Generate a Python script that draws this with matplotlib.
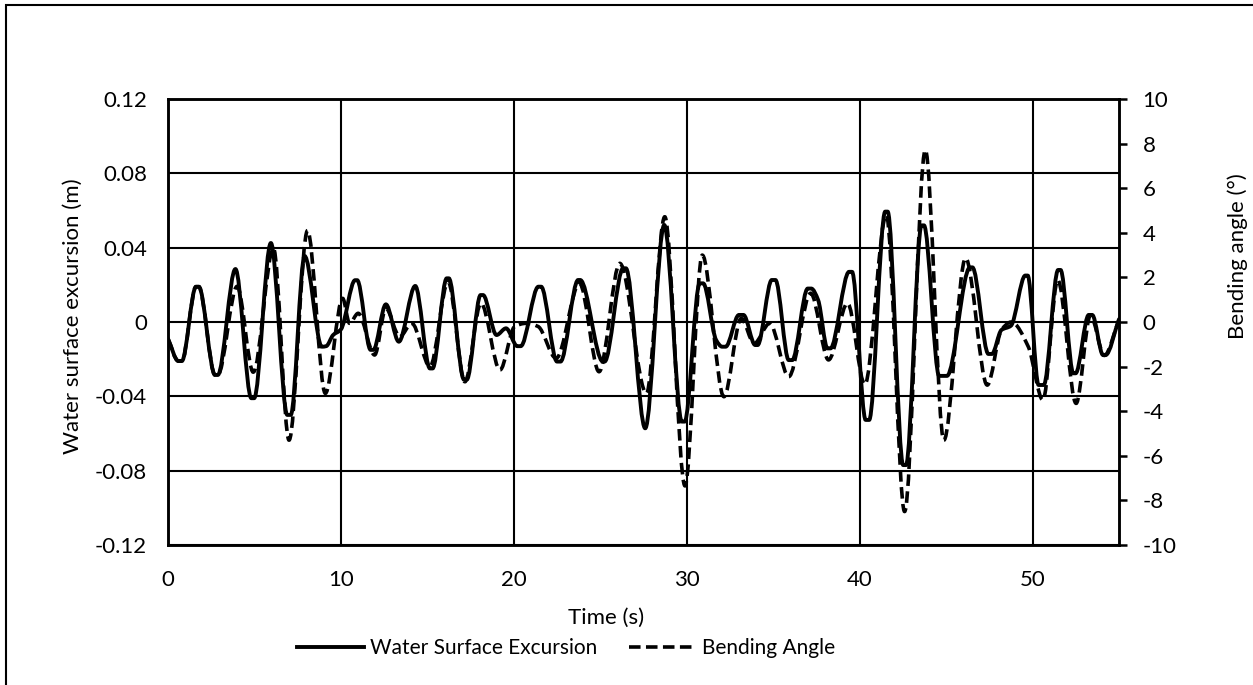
import matplotlib
matplotlib.use("Agg")
import matplotlib.pyplot as plt
from matplotlib.path import Path
from matplotlib.patches import PathPatch, Rectangle
from matplotlib.lines import Line2D

plt.rcParams['font.family'] = ['Lato', 'DejaVu Sans']
plt.rcParams['axes.unicode_minus'] = False

# water surface excursion (m)
water_t = [0.0, 0.6, 0.8, 1.62, 1.78, 2.72, 2.88, 3.9, 4.82, 4.98, 5.95,
           6.9, 7.1, 7.9, 8.9, 9.15, 9.55, 10.0, 10.82, 10.94, 11.72, 11.88,
           12.6, 13.35, 14.3, 15.15, 15.3, 16.12, 16.24, 17.12, 17.28, 18.08,
           18.22, 19.0, 19.55, 20.2, 20.4, 21.42, 21.58, 22.5, 22.7, 23.72,
           23.84, 25.15, 25.25, 26.32, 26.48, 27.6, 28.7, 29.72, 29.88,
           30.75, 30.95, 31.7, 32.05, 32.25, 33.02, 33.28, 33.96, 34.1,
           34.92, 35.13, 35.9, 36.1, 37.0, 37.2, 37.6, 38.14, 38.31, 39.39,
           39.56, 40.35, 40.55, 41.48, 41.62, 42.52, 42.68, 43.58, 43.72,
           44.6, 45.05, 46.38, 46.52, 47.45, 47.65, 48.2, 48.75, 49.58, 49.72,
           50.35, 50.65, 51.48, 51.62, 52.36, 52.49, 53.25, 53.45, 54.08,
           54.22, 55.0]
water_v = [-0.009, -0.021, -0.021, 0.019, 0.019, -0.0285, -0.0285, 0.0285,
           -0.041, -0.041, 0.0425, -0.050, -0.050, 0.0355, -0.0133, -0.013,
           -0.007, -0.004, 0.0225, 0.0225, -0.015, -0.015, 0.0095, -0.0106,
           0.0194, -0.025, -0.025, 0.0235, 0.0235, -0.031, -0.031, 0.0145,
           0.0145, -0.007, -0.0034, -0.013, -0.013, 0.019, 0.019, -0.0213,
           -0.0213, 0.0226, 0.0226, -0.0213, -0.0213, 0.0289, 0.0289, -0.0572,
           0.0522, -0.0536, -0.0536, 0.0208, 0.0208, -0.0097, -0.0133, -0.0133,
           0.0038, 0.0038, -0.0124, -0.0124, 0.0226, 0.0226, -0.0205, -0.0205,
           0.018, 0.018, 0.0118, -0.0142, -0.0142, 0.027, 0.027, -0.0527,
           -0.0527, 0.0594, 0.0594, -0.077, -0.077, 0.052, 0.052, -0.029,
           -0.029, 0.0294, 0.0294, -0.0172, -0.0172, -0.0043, -0.002, 0.025,
           0.025, -0.0339, -0.0339, 0.028, 0.028, -0.0276, -0.0276, 0.0038,
           0.0038, -0.0178, -0.0178, 0.0015]

# bending angle (deg)
angle_t = [0.0, 0.6, 0.8, 1.62, 1.78, 2.72, 2.88, 4.0, 4.93, 6.1, 7.0, 8.07,
           9.1, 10.1, 10.5, 11.0, 11.95, 12.6, 13.4, 14.1, 15.15, 16.2, 17.17,
           18.1, 19.2, 20.05, 20.7, 21.4, 22.45, 23.8, 24.93, 26.13, 27.67,
           28.73, 29.9, 30.9, 32.15, 33.15, 33.9, 34.8, 35.9, 37.17, 38.2,
           39.3, 40.3, 41.54, 42.6, 43.8, 44.87, 46.13, 47.38, 48.2, 48.77,
           49.75, 50.6, 51.46, 52.52, 53.35, 54.15, 55.0]
angle_v = [-0.75, -1.75, -1.75, 1.58, 1.58, -2.37, -2.37, 1.6, -2.25, 3.3,
           -5.3, 4.1, -3.2, 1.06, -0.06, 0.39, -1.48, 0.61, -0.66, -0.06, -2.0,
           1.8, -2.68, 0.84, -2.15, -0.2, -0.06, -0.2, -1.63, 1.73, -2.23, 2.63,
           -3.2, 4.72, -7.35, 3.0, -3.35, 0.16, -0.96, -0.06, -2.45, 1.29, -1.7,
           0.84, -2.8, 4.8, -8.5, 7.71, -5.3, 2.86, -2.83, -0.36, 0.0, -1.1,
           -3.5, 1.88, -3.65, 0.3, -1.5, 0.1]

x_ticks = [0, 10, 20, 30, 40, 50]
left_ticks = [-0.12, -0.08, -0.04, 0, 0.04, 0.08, 0.12]
left_labels = ['-0.12', '-0.08', '-0.04', '0', '0.04', '0.08', '0.12']
right_ticks = list(range(-10, 11, 2))


def smooth_path(xs, ys):
    # smoothed line through every point, flat tangent at turning points
    n = len(xs)
    sec = [(ys[i + 1] - ys[i]) / (xs[i + 1] - xs[i]) for i in range(n - 1)]
    m = [sec[0]]
    for i in range(1, n - 1):
        if sec[i - 1] * sec[i] <= 0:
            m.append(0.0)
        else:
            m.append(2 / (1 / sec[i - 1] + 1 / sec[i]))
    m.append(sec[-1])
    verts = [(xs[0], ys[0])]
    codes = [Path.MOVETO]
    for i in range(n - 1):
        dx = xs[i + 1] - xs[i]
        verts += [(xs[i] + dx / 3, ys[i] + m[i] * dx / 3),
                  (xs[i + 1] - dx / 3, ys[i + 1] - m[i + 1] * dx / 3),
                  (xs[i + 1], ys[i + 1])]
        codes += [Path.CURVE4] * 3
    return Path(verts, codes)


fig = plt.figure(figsize=(12.53, 6.85), dpi=100)
ax = fig.add_axes([168 / 1253, 1 - 545 / 685, (1119 - 168) / 1253, (545 - 99) / 685])
ax2 = ax.twinx()

ax.set_xlim(0, 55)
ax.set_ylim(-0.12, 0.12)
ax2.set_ylim(-10, 10)

ax.add_patch(PathPatch(smooth_path(water_t, water_v), fill=False,
                       edgecolor='black', lw=2.8, capstyle='round', joinstyle='round'))
ax2.add_patch(PathPatch(smooth_path(angle_t, angle_v), fill=False,
                        edgecolor='black', lw=2.6, linestyle=(0, (3.2, 1.5)),
                        capstyle='butt', joinstyle='round'))

ax.set_xticks(x_ticks)
ax.set_yticks(left_ticks)
ax.set_yticklabels(left_labels)
ax2.set_yticks(right_ticks)
ax.grid(True, color='black', lw=1.5)
ax.set_axisbelow(True)

for a in (ax, ax2):
    for s in a.spines.values():
        s.set_linewidth(1.8)
ax.tick_params(axis='x', length=0, pad=18, labelsize=16)
ax.tick_params(axis='y', length=0, pad=15, labelsize=16)
ax2.tick_params(axis='y', length=6, width=1.8, pad=11, labelsize=16, direction='out')

fig.text(73 / 1253, 1 - 316 / 685, 'Water surface excursion (m)', rotation=90,
         ha='center', va='center', fontsize=16)
fig.text(1238 / 1253, 1 - 256 / 685, 'Bending angle (°)', rotation=90,
         ha='center', va='center', fontsize=16)
fig.text(606 / 1253, 1 - 618 / 685, 'Time (s)', ha='center', va='center', fontsize=16)

handles = [Line2D([], [], color='black', lw=2.8),
           Line2D([], [], color='black', lw=2.6, linestyle=(0, (3.2, 1.5)))]
fig.legend(handles, ['Water Surface Excursion', 'Bending Angle'],
           loc='center', bbox_to_anchor=(566 / 1253, 1 - 648 / 685), ncol=2,
           frameon=False, fontsize=15, handlelength=3.2, handletextpad=0.3,
           columnspacing=1.5)

# outer chart border
fig.patches.append(Rectangle((6 / 1253, -0.02), 1.05, 1 - 5 / 685 + 0.02,
                             transform=fig.transFigure, fill=False,
                             edgecolor='black', lw=1.5))

fig.savefig('out.png', dpi=100)
